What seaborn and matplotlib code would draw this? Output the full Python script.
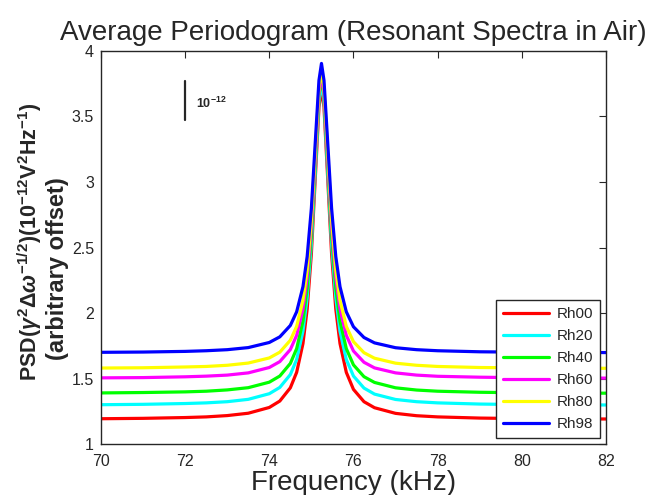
import pandas as pd
import matplotlib
matplotlib.use("Agg")
import matplotlib.pyplot as plt
import seaborn as sns

# Frequency grid (kHz), shared by all curves
freq = [70, 71, 72, 72.5, 73, 73.5, 74, 74.25, 74.5, 74.65, 74.8, 74.9, 75.0, 75.1, 75.18, 75.24,
        75.3, 75.38, 75.48, 75.58, 75.68, 75.83, 76.0, 76.25, 76.5, 77, 77.5, 78, 79, 80, 81, 82]

# PSD values (arbitrary offset)
rh00 = [1.193, 1.196, 1.202, 1.207, 1.217, 1.235, 1.279, 1.328, 1.429, 1.547, 1.767, 2.030, 2.453, 3.075, 3.569, 3.718,
        3.569, 3.075, 2.453, 2.030, 1.767, 1.547, 1.417, 1.323, 1.277, 1.234, 1.216, 1.207, 1.198, 1.194, 1.192, 1.191]
rh20 = [1.300, 1.303, 1.309, 1.314, 1.323, 1.341, 1.384, 1.432, 1.530, 1.645, 1.860, 2.116, 2.528, 3.134, 3.615, 3.760,
        3.615, 3.134, 2.528, 2.116, 1.860, 1.645, 1.519, 1.427, 1.381, 1.340, 1.323, 1.314, 1.305, 1.301, 1.299, 1.298]
rh40 = [1.390, 1.393, 1.398, 1.403, 1.413, 1.430, 1.472, 1.519, 1.615, 1.728, 1.938, 2.189, 2.593, 3.187, 3.658, 3.800,
        3.658, 3.187, 2.593, 2.189, 1.938, 1.728, 1.604, 1.514, 1.470, 1.429, 1.412, 1.403, 1.395, 1.391, 1.389, 1.388]
rh60 = [1.505, 1.507, 1.513, 1.518, 1.526, 1.543, 1.584, 1.629, 1.721, 1.829, 2.031, 2.273, 2.660, 3.231, 3.683, 3.820,
        3.683, 3.231, 2.660, 2.273, 2.031, 1.829, 1.710, 1.624, 1.581, 1.543, 1.526, 1.517, 1.510, 1.506, 1.504, 1.503]
rh80 = [1.580, 1.582, 1.588, 1.592, 1.601, 1.618, 1.657, 1.701, 1.792, 1.898, 2.096, 2.333, 2.713, 3.272, 3.716, 3.850,
        3.716, 3.272, 2.713, 2.333, 2.096, 1.898, 1.781, 1.697, 1.655, 1.617, 1.601, 1.592, 1.584, 1.581, 1.579, 1.578]
rh98 = [1.700, 1.702, 1.707, 1.712, 1.720, 1.736, 1.775, 1.818, 1.905, 2.009, 2.201, 2.431, 2.800, 3.344, 3.775, 3.905,
        3.775, 3.344, 2.800, 2.431, 2.201, 2.009, 1.895, 1.813, 1.772, 1.735, 1.720, 1.712, 1.704, 1.701, 1.699, 1.698]

labels = ['Rh00', 'Rh20', 'Rh40', 'Rh60', 'Rh80', 'Rh98']
colors = ['#ff0000', '#00ffff', '#00ff00', '#ff00ff', '#ffff00', '#0000ff']
x_ticks = [70, 72, 74, 76, 78, 80, 82]
y_ticks = [1, 1.5, 2, 2.5, 3, 3.5, 4]

rows = []
for name, vals in zip(labels, [rh00, rh20, rh40, rh60, rh80, rh98]):
    for f, v in zip(freq, vals):
        rows.append({'freq': f, 'psd': v, 'series': name})
df = pd.DataFrame(rows)

sns.set_style("white")
plt.rcParams['font.family'] = ['Liberation Sans', 'DejaVu Sans']
plt.rcParams['mathtext.fontset'] = 'custom'
plt.rcParams['mathtext.rm'] = 'Liberation Sans:bold'
plt.rcParams['mathtext.it'] = 'Liberation Sans:italic:bold'
plt.rcParams['mathtext.bf'] = 'Liberation Sans:bold'

fig = plt.figure(figsize=(6.51, 4.95), dpi=100)
ax = fig.add_axes([0.1551, 0.103, 0.7757, 0.794])

sns.lineplot(data=df, x='freq', y='psd', hue='series', palette=colors, hue_order=labels,
             estimator=None, linewidth=2.3, ax=ax)

ax.set_xlim(70, 82)
ax.set_ylim(1, 4)
ax.set_xticks(x_ticks)
ax.set_yticks(y_ticks)
ax.set_xticklabels([str(t) for t in x_ticks])
ax.set_yticklabels([f"{t:g}" for t in y_ticks])
ax.tick_params(direction='in', length=5, width=0.8, top=True, right=True,
               labelsize=11.5, labelcolor='#262626', color='#262626')
ax.tick_params(axis='x', pad=7)
ax.tick_params(axis='y', pad=5)
for sp in ax.spines.values():
    sp.set_color('#262626')
    sp.set_linewidth(1.0)

# scale bar
ax.plot([72, 72], [3.47, 3.77], color='#262626', linewidth=1.6)
ax.text(72.27, 3.6, r'10$^{-12}$', fontsize=9, fontweight='bold', va='center', ha='left')

ax.set_title('Average Periodogram (Resonant Spectra in Air)', fontsize=20, pad=8)
ax.set_xlabel('Frequency (kHz)', fontsize=20, labelpad=1)
ax.set_ylabel('')
fig.text(0.046, 0.511, r'PSD($\gamma^2\Delta\omega^{-1/2}$)(10$^{-12}$V$^2$Hz$^{-1}$)',
         rotation=90, ha='center', va='center', fontsize=15.5, fontweight='bold')
fig.text(0.088, 0.457, '(arbitrary offset)', rotation=90, ha='center', va='center',
         fontsize=17, fontweight='bold')

leg = ax.legend(loc='lower right', fontsize=11, handlelength=3.0, labelspacing=0.52,
                frameon=True, fancybox=False, edgecolor='#262626', framealpha=1,
                borderpad=0.45, borderaxespad=0.4, handletextpad=0.5)
leg.get_frame().set_linewidth(1.0)
for line in leg.get_lines():
    line.set_linewidth(2.3)

fig.savefig('out.png', dpi=100, facecolor='white')
